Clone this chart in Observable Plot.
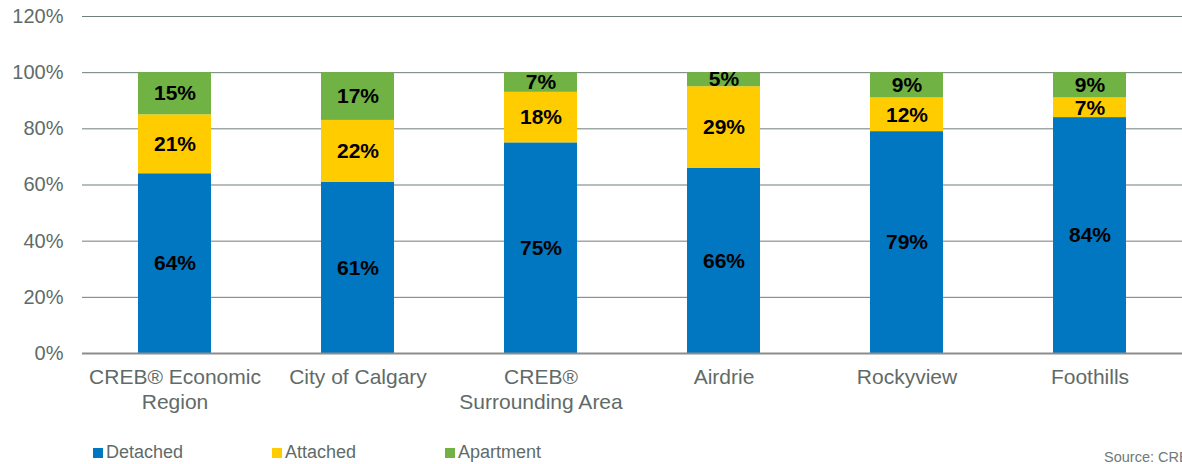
<!DOCTYPE html>
<html>
<head>
<meta charset="utf-8">
<script src="https://cdn.jsdelivr.net/npm/d3@7"></script>
<script src="https://cdn.jsdelivr.net/npm/@observablehq/plot@0.6"></script>
<style>
  body { margin: 0; background: #fff; overflow: hidden; width: 1182px; height: 464px; }
  #chart { position: relative; width: 1182px; height: 464px; font-family: "Liberation Sans", Arial, sans-serif; }
  .legend { position: absolute; top: 441px; left: 0; width: 1182px; height: 23px; font-size: 18px; color: #5f6b68; }
  .item { position: absolute; top: 0; display: flex; align-items: center; height: 23px; }
  .sw { width: 10px; height: 10px; margin-right: 3px; }
  .source { position: absolute; left: 1104px; top: 449px; font-size: 14.5px; color: #6f7a77; white-space: nowrap; }
</style>
</head>
<body>
<div id="chart"></div>
<script>
const regions = ["CREB® Economic Region", "City of Calgary", "CREB® Surrounding Area", "Airdrie", "Rockyview", "Foothills"];
const regionLabels = ["CREB® Economic\nRegion", "City of Calgary", "CREB®\nSurrounding Area", "Airdrie", "Rockyview", "Foothills"];
const seriesNames = ["Detached", "Attached", "Apartment"];
const seriesColors = ["#0077c0", "#ffcc00", "#70b244"];
const detached = [64, 61, 75, 66, 79, 84];
const attached = [21, 22, 18, 29, 12, 7];
const apartment = [15, 17, 7, 5, 9, 9];
const yTicks = [0, 20, 40, 60, 80, 100, 120];

const seriesValues = [detached, attached, apartment];
const data = [];
seriesNames.forEach((s, si) => {
  regions.forEach((r, ri) => data.push({region: r, series: s, value: seriesValues[si][ri]}));
});
const labelOf = new Map(regions.map((r, i) => [r, regionLabels[i]]));

const plot = Plot.plot({
  width: 1182,
  height: 430,
  marginLeft: 82,
  marginRight: 0,
  marginTop: 16,
  marginBottom: 77,
  style: {fontFamily: '"Liberation Sans", Arial, sans-serif', fontSize: "20px", color: "#5f6b68", background: "#fff"},
  x: {domain: regions, paddingInner: 0.6, paddingOuter: 0.3, label: null},
  y: {domain: [0, 120], label: null},
  color: {domain: seriesNames, range: seriesColors},
  marks: [
    Plot.gridY(yTicks.filter(d => d > 0), {stroke: "#6f7f79", strokeOpacity: 1, strokeWidth: 1}),
    Plot.barY(data, {x: "region", y: "value", fill: "series", order: seriesNames}),
    Plot.ruleY([0], {stroke: "#8c8c8c", strokeWidth: 2}),
    Plot.text(data, Plot.stackY({x: "region", y: "value", z: "series", order: seriesNames,
      text: d => d.value + "%", fill: "#000", fontWeight: "bold", fontSize: 21})),
    Plot.axisY(yTicks, {tickSize: 0, tickPadding: 19, tickFormat: d => d + "%", fontSize: 20, label: null}),
    Plot.axisX({tickSize: 0, tickPadding: 13, tickFormat: d => labelOf.get(d), fontSize: 21, lineHeight: 1.19, label: null})
  ]
});

const chart = document.getElementById("chart");
chart.appendChild(plot);

const legend = document.createElement("div");
legend.className = "legend";
const legendX = [93, 272, 445];
seriesNames.forEach((s, i) => {
  const it = document.createElement("div");
  it.className = "item";
  it.style.left = legendX[i] + "px";
  const sw = document.createElement("span");
  sw.className = "sw";
  sw.style.background = seriesColors[i];
  const tx = document.createElement("span");
  tx.textContent = s;
  it.appendChild(sw);
  it.appendChild(tx);
  legend.appendChild(it);
});
chart.appendChild(legend);

const src = document.createElement("div");
src.className = "source";
src.textContent = "Source: CREB®";
chart.appendChild(src);
</script>
</body>
</html>
